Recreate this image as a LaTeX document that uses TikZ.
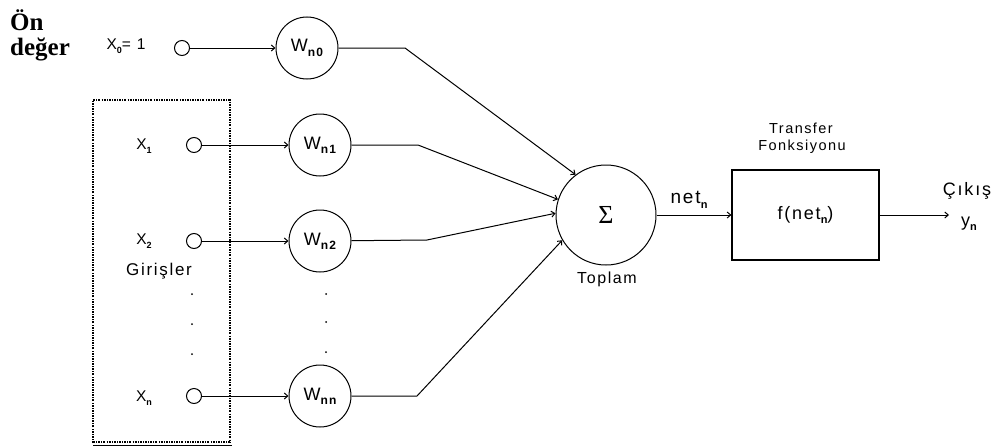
\documentclass[tikz,border=0pt]{standalone}
\usepackage{fontspec}
\setmainfont{Liberation Sans}
\newfontfamily\pixfont[LetterSpace=10]{Liberation Sans}
\newfontfamily\headfont{Liberation Serif}
\usetikzlibrary{arrows.meta}

% small lowered index, as used in the weight and signal names
\newcommand{\lsub}[2][9]{\raisebox{-0.45ex}{\fontsize{#1}{#1}\selectfont\bfseries #2}}
\newcommand{\fs}[1]{\fontsize{#1}{#1}\selectfont}

\begin{document}
\begin{tikzpicture}[x=1pt,y=-1pt,
  every node/.style={inner sep=0pt},
  port/.style={draw, circle, minimum size=15pt, line width=1pt},
  weight/.style={draw, circle, minimum size=62pt, line width=1pt, font=\pixfont\fs{18}},
  lbl/.style={font=\pixfont\fs{15.5}},
  conn/.style={line width=1pt, -{Straight Barb[length=3.5pt,width=6pt]}},
  frame/.style={line width=1.2pt, dash pattern=on 2pt off 1.2pt on 0.8pt off 1.2pt}]
\useasboundingbox (0,0) rectangle (1000,447);

% bias label
\node[anchor=base west, font=\headfont\bfseries\fs{25}] (on) at (10,30) {Ön};
\node[anchor=base west, font=\headfont\bfseries\fs{25}] (deger) at (10,55) {değer};

% input ports
\node[port] (x0) at (182,48) {};
\node[port] (x1) at (194,145) {};
\node[port] (x2) at (194,241) {};
\node[port] (xn) at (194,396) {};

\node[lbl] (lx0) at (126,46) {X\lsub{0}= 1};
\node[lbl] (lx1) at (144,146) {X\lsub{1}};
\node[lbl] (lx2) at (144,241) {X\lsub{2}};
\node[lbl] (lxn) at (144,398) {X\lsub{n}};
\node[font=\pixfont\fs{17}] (gir) at (159,271) {Girişler};

% dotted frame around the inputs
\draw[frame] (93,443) -- (93,100) -- (230,100) -- (230,443);
\draw[frame] (93,442) -- (230,442);
\draw[line width=1.6pt] (93,445.5) -- (232,445.5);

% weights
\node[weight] (w0) at (307,48) {W\lsub[12]{n0}};
\node[weight] (w1) at (320,145) {W\lsub[12]{n1}};
\node[weight] (w2) at (320,241) {W\lsub[12]{n2}};
\node[weight] (wn) at (320,396) {W\lsub[12]{nn}};

% elision dots
\foreach \yy in {294,324,354} \fill (192,\yy) circle (1pt);
\foreach \yy in {294,322,352} \fill (326,\yy) circle (1pt);

% summation
\node[draw, circle, minimum size=100pt, line width=1pt, font=\headfont\fs{26}] (sum) at (606,215) {Σ};
\node[font=\pixfont\fs{16}] (top) at (607,279) {Toplam};

% transfer function
\node[draw, line width=1.2pt, minimum width=147pt, minimum height=90pt, font=\pixfont\fs{18}] (tf) at (805.5,215) {f(net\lsub[11]{n})};
\node[font=\pixfont\fs{14.5}] (tf1) at (801,128) {Transfer};
\node[font=\pixfont\fs{14.5}] (tf2) at (802,147) {Fonksiyonu};

\node[font=\pixfont\fs{19}] (net) at (689,200) {net\lsub[11]{n}};
\node[font=\pixfont\fs{18}] (cik) at (967,191) {Çıkış};
\node[font=\pixfont\fs{18}] (yn) at (969,224) {y\lsub[11]{n}};

% bend points of the weighted lines
\coordinate (b0) at (405,48);
\coordinate (b1) at (418,145);
\coordinate (b2) at (427,240);
\coordinate (bn) at (417,396);
\coordinate (out) at (949,215);

% inputs to weights
\draw[conn] (x0) -- (w0);
\draw[conn] (x1) -- (w1);
\draw[conn] (x2) -- (w2);
\draw[conn] (xn) -- (wn);

% weights to summation
\draw[conn] (w0) -- (b0) -- (sum.127);
\draw[conn] (w1) -- (b1) -- (sum.162);
\draw[conn] (w2) -- (b2) -- (sum.178);
\draw[conn] (wn) -- (bn) -- (sum.210);

% summation to output
\draw[conn] (sum) -- (tf);
\draw[conn] (tf) -- (out);
\end{tikzpicture}
\end{document}
